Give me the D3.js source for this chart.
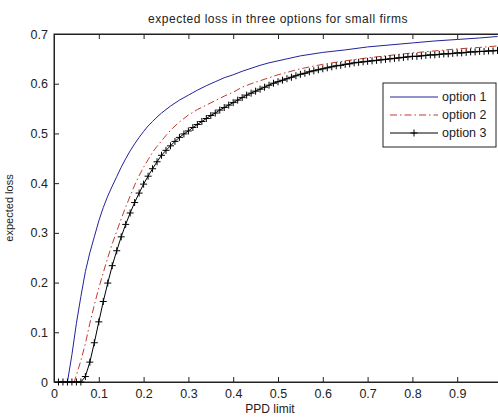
<!DOCTYPE html>
<html><head><meta charset="utf-8">
<script src="https://cdn.jsdelivr.net/npm/d3@7"></script>
<style>body{margin:0;background:#fff}svg{display:block}text{font-family:"Liberation Sans",Arial,sans-serif}</style>
</head><body><div id="c"></div>
<script>
const title = "expected loss in three options for small firms";
const xLabel = "PPD limit";
const yLabel = "expected loss";
const xTicks = [0,0.1,0.2,0.3,0.4,0.5,0.6,0.7,0.8,0.9];
const yTicks = [0,0.1,0.2,0.3,0.4,0.5,0.6,0.7];
const seriesNames = ["option 1","option 2","option 3"];

const x1 = [0.01,0.02,0.03,0.04,0.05,0.06,0.07,0.08,0.09,0.10,0.11,0.12,0.13,0.14,0.15,0.16,0.17,0.18,0.19,0.20,0.21,0.22,0.23,0.24,0.25,0.26,0.27,0.28,0.29,0.30,0.32,0.34,0.36,0.38,0.40,0.42,0.44,0.46,0.48,0.50,0.55,0.60,0.65,0.70,0.75,0.80,0.85,0.90,0.95,0.99];
const option1 = [0,0,0,0.055,0.118,0.172,0.222,0.260,0.292,0.324,0.351,0.374,0.394,0.413,0.432,0.449,0.465,0.479,0.492,0.504,0.515,0.524,0.533,0.541,0.548,0.555,0.561,0.567,0.572,0.577,0.587,0.596,0.604,0.612,0.618,0.625,0.631,0.637,0.642,0.646,0.656,0.663,0.668,0.674,0.678,0.682,0.686,0.689,0.692,0.695];

const x2 = [0.01,0.02,0.03,0.04,0.045,0.05,0.06,0.07,0.08,0.09,0.10,0.11,0.12,0.13,0.14,0.15,0.16,0.17,0.18,0.19,0.20,0.21,0.22,0.23,0.24,0.25,0.26,0.27,0.28,0.29,0.30,0.32,0.34,0.36,0.38,0.40,0.42,0.44,0.46,0.48,0.50,0.55,0.60,0.65,0.70,0.75,0.80,0.85,0.90,0.95,0.99];
const option2 = [0,0,0,0,0,0.014,0.043,0.077,0.118,0.155,0.189,0.220,0.250,0.278,0.303,0.328,0.352,0.374,0.396,0.415,0.432,0.447,0.462,0.474,0.485,0.496,0.506,0.515,0.523,0.530,0.537,0.548,0.557,0.566,0.575,0.583,0.593,0.600,0.606,0.612,0.618,0.630,0.639,0.646,0.652,0.657,0.662,0.666,0.670,0.673,0.676];

const x3 = [0.01,0.02,0.03,0.04,0.05,0.06,0.07,0.08,0.09,0.10,0.11,0.12,0.13,0.14,0.15,0.16,0.17,0.18,0.19,0.20,0.21,0.22,0.23,0.24,0.25,0.26,0.27,0.28,0.29,0.30,0.31,0.32,0.33,0.34,0.35,0.36,0.37,0.38,0.39,0.40,0.41,0.42,0.43,0.44,0.45,0.46,0.47,0.48,0.49,0.50,0.51,0.52,0.53,0.54,0.55,0.56,0.57,0.58,0.59,0.60,0.61,0.62,0.63,0.64,0.65,0.66,0.67,0.68,0.69,0.70,0.71,0.72,0.73,0.74,0.75,0.76,0.77,0.78,0.79,0.80,0.81,0.82,0.83,0.84,0.85,0.86,0.87,0.88,0.89,0.90,0.91,0.92,0.93,0.94,0.95,0.96,0.97,0.98,0.99];
const option3 = [0,0,0,0,0,0,0.011,0.040,0.079,0.121,0.162,0.199,0.234,0.264,0.292,0.317,0.340,0.361,0.380,0.398,0.414,0.429,0.443,0.456,0.466,0.475,0.484,0.492,0.499,0.505,0.512,0.518,0.524,0.530,0.536,0.541,0.547,0.552,0.557,0.562,0.567,0.572,0.577,0.581,0.585,0.589,0.593,0.597,0.601,0.604,0.607,0.610,0.613,0.616,0.619,0.621,0.624,0.626,0.628,0.630,0.632,0.634,0.636,0.637,0.639,0.640,0.642,0.643,0.644,0.645,0.646,0.647,0.648,0.649,0.650,0.651,0.652,0.653,0.654,0.655,0.655,0.656,0.657,0.658,0.658,0.659,0.660,0.660,0.661,0.662,0.662,0.663,0.664,0.664,0.665,0.665,0.666,0.666,0.667];

const W = 498, H = 418;
const L = 54, R = 502, T = 34, B = 382;
const svg = d3.select("#c").append("svg").attr("width", W).attr("height", H);
const x = d3.scaleLinear().domain([0, 1]).range([L, R]);
const y = d3.scaleLinear().domain([0, 0.7]).range([B, T]);
const axisColor = "#222";
const fs = "12.5px";

svg.append("rect").attr("x", L).attr("y", T).attr("width", R - L).attr("height", B - T)
  .attr("fill", "#fff").attr("stroke", axisColor).attr("stroke-width", 1);

const fmt = d => d === 0 ? "0" : d3.format(".1f")(d);
const gb = svg.append("g").attr("transform", `translate(0,${B})`)
  .call(d3.axisBottom(x).tickValues(xTicks).tickFormat(fmt).tickSizeInner(-5).tickSizeOuter(0).tickPadding(7));
const gt = svg.append("g").attr("transform", `translate(0,${T})`)
  .call(d3.axisTop(x).tickValues(xTicks).tickFormat("").tickSizeInner(-5).tickSizeOuter(0));
const gl = svg.append("g").attr("transform", `translate(${L},0)`)
  .call(d3.axisLeft(y).tickValues(yTicks).tickFormat(fmt).tickSizeInner(-5).tickSizeOuter(0).tickPadding(6));
[gb, gt, gl].forEach(g => {
  g.select(".domain").attr("stroke", axisColor);
  g.selectAll(".tick line").attr("stroke", axisColor);
  g.selectAll(".tick text").attr("fill", "#222").style("font-size", fs).style("font-family", '"Liberation Sans",Arial,sans-serif');
});
gb.selectAll(".tick text").attr("dy", "0.71em");

const line = (xs) => d3.line().x((d, i) => x(xs[i])).y(d => y(d));
const plot = svg.append("g");
plot.append("path").datum(option1).attr("d", line(x1)).attr("fill", "none")
  .attr("stroke", "#23239a").attr("stroke-width", 1);
plot.append("path").datum(option2).attr("d", line(x2)).attr("fill", "none")
  .attr("stroke", "#c0392b").attr("stroke-width", 1).attr("stroke-dasharray", "7,3,1.5,3");
plot.append("path").datum(option3).attr("d", line(x3)).attr("fill", "none")
  .attr("stroke", "#000").attr("stroke-width", 1);
const ms = 3.5;
plot.selectAll("path.m").data(option3).join("path").attr("class", "m")
  .attr("d", (d, i) => {
    const cx = x(x3[i]), cy = y(d);
    return `M${cx - ms},${cy}H${cx + ms}M${cx},${cy - ms}V${cy + ms}`;
  }).attr("stroke", "#000").attr("stroke-width", 1).attr("fill", "none");

svg.append("text").attr("x", (L + R) / 2).attr("y", 23).attr("text-anchor", "middle")
  .style("font-size", "12px").style("letter-spacing", "0.5px").attr("fill", "#222").text(title);
svg.append("text").attr("x", 270).attr("y", 413).attr("text-anchor", "middle")
  .style("font-size", "12px").attr("fill", "#222").text(xLabel);
svg.append("text").attr("transform", `translate(13,${(T + B) / 2}) rotate(-90)`).attr("text-anchor", "middle")
  .style("font-size", "11px").attr("fill", "#222").text(yLabel);

const lg = svg.append("g");
lg.append("rect").attr("x", 383).attr("y", 83).attr("width", 113).attr("height", 64)
  .attr("fill", "#fff").attr("stroke", axisColor).attr("stroke-width", 1);
const rowsY = [97, 115, 133];
const styles = [
  {c: "#23239a", dash: null, m: false},
  {c: "#c0392b", dash: "7,3,1.5,3", m: false},
  {c: "#000", dash: null, m: true}
];
seriesNames.forEach((n, i) => {
  const yy = rowsY[i];
  const ln = lg.append("line").attr("x1", 390).attr("x2", 438).attr("y1", yy).attr("y2", yy)
    .attr("stroke", styles[i].c).attr("stroke-width", 1);
  if (styles[i].dash) ln.attr("stroke-dasharray", styles[i].dash);
  if (styles[i].m) lg.append("path").attr("d", `M${414 - ms},${yy}H${414 + ms}M414,${yy - ms}V${yy + ms}`)
    .attr("stroke", "#000").attr("fill", "none");
  lg.append("text").attr("x", 442).attr("y", yy).attr("dy", "0.35em")
    .style("font-size", "12.5px").attr("fill", "#222").text(n);
});
</script></body></html>
